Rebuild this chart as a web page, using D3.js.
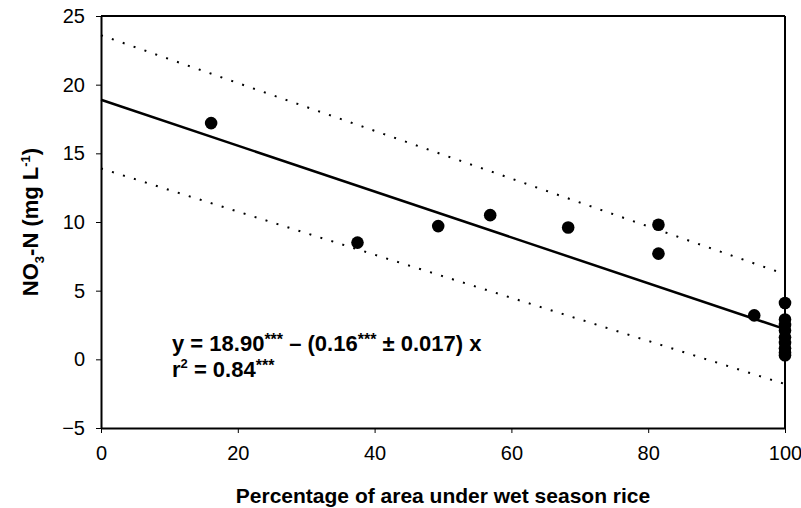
<!DOCTYPE html>
<html>
<head>
<meta charset="utf-8">
<script src="https://cdn.jsdelivr.net/npm/d3@7"></script>
<style>
  body { margin: 0; background: #fff; }
  svg { font-family: "Liberation Sans", Arial, sans-serif; }
</style>
</head>
<body>
<div id="chart"></div>
<script>
// observed points (percentage of area under wet season rice, NO3-N)
var pctArea = [16.1, 37.5, 49.3, 56.9, 68.3, 81.5, 81.5, 95.5,
               100, 100, 100, 100, 100, 100, 100, 100, 100];
var no3n    = [17.2, 8.5, 9.7, 10.5, 9.6, 9.8, 7.7, 3.2,
               4.1, 2.9, 2.5, 2.1, 1.6, 1.2, 0.8, 0.5, 0.3];

// fitted line and prediction band ends (at x = 0 and x = 100)
var fitX   = [0, 100];
var fitY   = [18.9, 2.2];
var upperY = [23.6, 6.2];
var lowerY = [13.9, -1.8];

var xTicks = [0, 20, 40, 60, 80, 100];
var yTicks = [-5, 0, 5, 10, 15, 20, 25];

var svgWidth = 801, svgHeight = 508;
var margin = { top: 16, right: 16, bottom: 80, left: 101 };
var width = svgWidth - margin.left - margin.right;
var height = svgHeight - margin.top - margin.bottom;

var svg = d3.select("#chart").append("svg")
  .attr("width", svgWidth)
  .attr("height", svgHeight);

var chartGroup = svg.append("g")
  .attr("transform", `translate(${margin.left}, ${margin.top})`);

var x = d3.scaleLinear().domain([0, 100]).range([0, width]);
var y = d3.scaleLinear().domain([-5, 25]).range([height, 0]);

// axes
var xAxis = chartGroup.append("g")
  .attr("transform", `translate(0, ${height})`)
  .call(d3.axisBottom(x).tickValues(xTicks).tickSize(5).tickPadding(13).tickSizeOuter(0));
var yAxis = chartGroup.append("g")
  .call(d3.axisLeft(y).tickValues(yTicks).tickSize(5).tickPadding(11).tickSizeOuter(0));

[xAxis, yAxis].forEach(function(a) {
  a.select(".domain").attr("stroke", "#000").attr("stroke-width", 2);
  a.selectAll(".tick line").attr("stroke", "#000").attr("stroke-width", 1);
  a.selectAll(".tick text").attr("font-size", "20px").attr("fill", "#000")
    .attr("font-family", "'Liberation Sans Narrow', 'Liberation Sans', Arial, sans-serif");
});

// frame top and right
chartGroup.append("line")
  .attr("x1", 0).attr("x2", width).attr("y1", 0).attr("y2", 0)
  .attr("stroke", "#000").attr("stroke-width", 2);
chartGroup.append("line")
  .attr("x1", width).attr("x2", width).attr("y1", 0).attr("y2", height)
  .attr("stroke", "#000").attr("stroke-width", 2);

// regression line and bands
function drawLine(ys, dash, w) {
  var pts = fitX.map(function(v, i) { return [x(v), y(ys[i])]; });
  chartGroup.append("path")
    .attr("d", d3.line()(pts))
    .attr("fill", "none")
    .attr("stroke", "#000")
    .attr("stroke-width", w)
    .attr("stroke-dasharray", dash);
}
drawLine(upperY, "2,9.5", 2);
drawLine(lowerY, "2,9.5", 2);
drawLine(fitY, null, 2.5);

// points
chartGroup.selectAll("circle")
  .data(pctArea)
  .enter()
  .append("circle")
  .attr("cx", function(d) { return x(d); })
  .attr("cy", function(d, i) { return y(no3n[i]); })
  .attr("r", 6.3)
  .attr("fill", "#000");

// equation
var eq = chartGroup.append("text")
  .attr("x", 71).attr("y", 335)
  .attr("font-size", "22px").attr("font-weight", "bold");
eq.append("tspan").text("y = 18.90");
eq.append("tspan").attr("font-size", "16px").attr("dy", -6).text("***");
eq.append("tspan").attr("dy", 6).text(" \u2013 (0.16");
eq.append("tspan").attr("font-size", "16px").attr("dy", -6).text("***");
eq.append("tspan").attr("dy", 6).text(" \u00b1 0.017) x");

var r2 = chartGroup.append("text")
  .attr("x", 71).attr("y", 361)
  .attr("font-size", "22px").attr("font-weight", "bold");
r2.append("tspan").text("r");
r2.append("tspan").attr("font-size", "13px").attr("dy", -9).text("2");
r2.append("tspan").attr("dy", 9).text(" = 0.84");
r2.append("tspan").attr("font-size", "16px").attr("dy", -6).text("***");

// axis titles
svg.append("text")
  .attr("x", margin.left + width / 2)
  .attr("y", 503)
  .attr("text-anchor", "middle")
  .attr("font-size", "21px").attr("font-weight", "bold")
  .text("Percentage of area under wet season rice");

var yt = svg.append("text")
  .attr("transform", `translate(38, ${margin.top + height / 2}) rotate(-90)`)
  .attr("text-anchor", "middle")
  .attr("font-size", "22px").attr("font-weight", "bold");
yt.append("tspan").text("NO");
yt.append("tspan").attr("font-size", "13px").attr("dy", 6).text("3");
yt.append("tspan").attr("dy", -6).text("-N (mg L");
yt.append("tspan").attr("font-size", "13px").attr("dy", -8).text("-1");
yt.append("tspan").attr("dy", 8).text(")");
</script>
</body>
</html>
